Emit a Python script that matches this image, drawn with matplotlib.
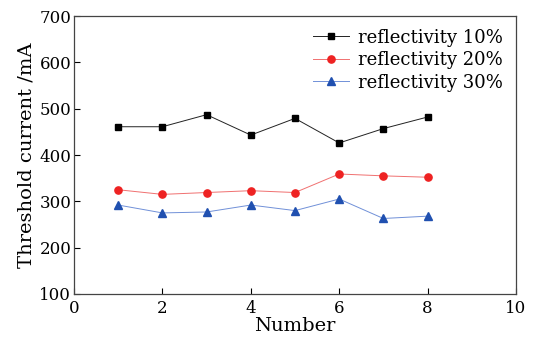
import matplotlib
matplotlib.use('Agg')
import matplotlib.pyplot as plt

number = [1, 2, 3, 4, 5, 6, 7, 8]
r10 = [461, 461, 487, 443, 479, 426, 457, 482]
r20 = [325, 315, 319, 323, 319, 359, 355, 352]
r30 = [292, 275, 277, 292, 280, 305, 263, 268]

plt.rcParams['font.family'] = ['DejaVu Serif']

fig = plt.figure(figsize=(5.42, 3.37), dpi=100)
ax = fig.add_axes([74 / 542, 1 - 294 / 337, (516 - 74) / 542, (294 - 16) / 337])

ax.plot(number, r10, color='#222222', lw=0.7, marker='s', ms=4.8,
        mfc='black', mec='black', label='reflectivity 10%')
ax.plot(number, r20, color='#f07070', lw=0.7, marker='o', ms=5.2,
        mfc='#ee2222', mec='#ee2222', label='reflectivity 20%')
ax.plot(number, r30, color='#7090d8', lw=0.7, marker='^', ms=5.8,
        mfc='#2050b0', mec='#2050b0', label='reflectivity 30%')

ax.set_xlim(0, 10)
ax.set_ylim(100, 700)
ax.set_xticks([0, 2, 4, 6, 8, 10])
ax.set_yticks([100, 200, 300, 400, 500, 600, 700])
ax.tick_params(direction='in', labelsize=12, length=4, width=0.8)
ax.tick_params(axis='x', pad=4)
ax.tick_params(axis='y', pad=2)
ax.set_xlabel('Number', fontsize=14, labelpad=0)
ax.set_ylabel('Threshold current /mA', fontsize=14, labelpad=3)
for s in ax.spines.values():
    s.set_linewidth(0.9)
    s.set_color('#444444')

ax.legend(loc='upper right', frameon=False, fontsize=13, handlelength=2.0,
          handletextpad=0.5, labelspacing=0.25, borderaxespad=0.3)

fig.savefig('out.png', dpi=100)
